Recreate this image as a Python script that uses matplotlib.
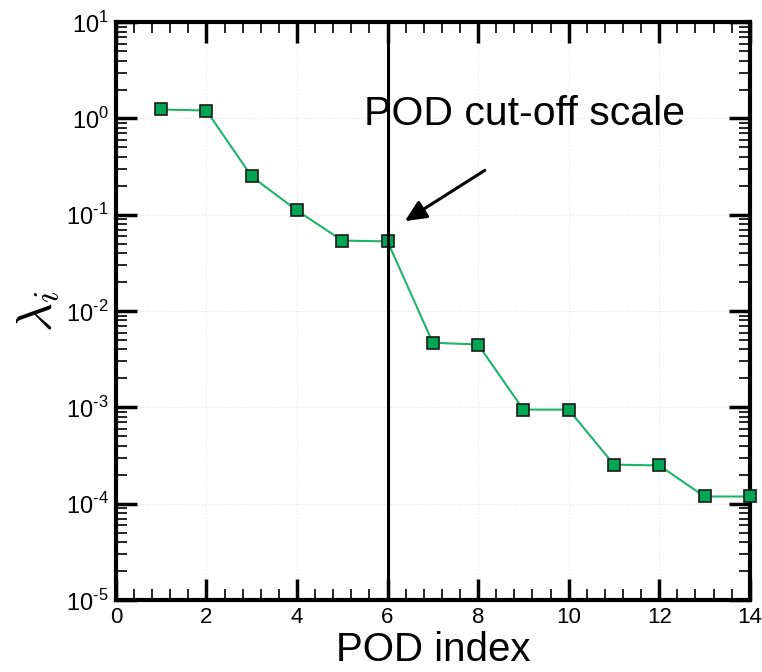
import math
import matplotlib
matplotlib.use('Agg')
import matplotlib.pyplot as plt
from matplotlib.ticker import MultipleLocator, LogLocator, FuncFormatter, NullFormatter

plt.rcParams['font.family'] = ['Liberation Sans', 'DejaVu Sans']
plt.rcParams['mathtext.fontset'] = 'custom'
plt.rcParams['mathtext.rm'] = 'Liberation Sans'

# valores propios POD
indice = [1, 2, 3, 4, 5, 6, 7, 8, 9, 10, 11, 12, 13, 14]
lam = [1.24, 1.21, 0.25, 0.111, 0.054, 0.053, 0.0047, 0.0045,
       9.5e-4, 9.5e-4, 2.55e-4, 2.5e-4, 1.19e-4, 1.19e-4]
corte = 6

fig = plt.figure(figsize=(7.62, 6.72), dpi=100)
ax = fig.add_axes([0.152, 0.107, 0.832, 0.860])

ax.plot(indice, lam, '-s', color='#1fb36b', lw=1.5, ms=9,
        markerfacecolor='#00a651', markeredgecolor='#1a1a1a', markeredgewidth=1.2,
        zorder=3, clip_on=False)
ax.axvline(corte, color='black', lw=2.2, zorder=4)

ax.set_yscale('log')
ax.set_xlim(0, 14)
ax.set_ylim(1e-5, 1e1)

# ticks
ax.xaxis.set_major_locator(MultipleLocator(2))
ax.xaxis.set_minor_locator(MultipleLocator(0.4))
ax.yaxis.set_major_locator(LogLocator(base=10, numticks=10))
ax.yaxis.set_minor_locator(LogLocator(base=10, subs=range(2, 10), numticks=20))
ax.yaxis.set_major_formatter(FuncFormatter(lambda v, p: r'$10^{\text{%d}}$' % round(math.log10(v))))
ax.yaxis.set_minor_formatter(NullFormatter())

ax.tick_params(which='both', direction='in', top=True, right=True)
ax.tick_params(which='major', length=15, width=2.5)
ax.tick_params(which='minor', length=8, width=1.2)
ax.tick_params(axis='x', labelsize=16, pad=5)
ax.tick_params(axis='y', labelsize=17, pad=5)
for s in ax.spines.values():
    s.set_linewidth(3)

ax.grid(True, which='major', ls=':', color='#e6e6e6', lw=0.8)

ax.set_xlabel('POD index', fontsize=29, labelpad=2)
ax.set_ylabel(r'$\lambda_i$', fontsize=36, math_fontfamily='cm', labelpad=4)

ax.annotate('', xy=(6.33, 0.083), xytext=(8.2, 0.30),
            arrowprops=dict(arrowstyle='-|>,head_length=1.3,head_width=0.6', color='black', lw=2.2))
ax.text(5.49, 1.12, 'POD cut-off scale', fontsize=29.5, ha='left', va='center')

fig.savefig('out.png', dpi=100)
